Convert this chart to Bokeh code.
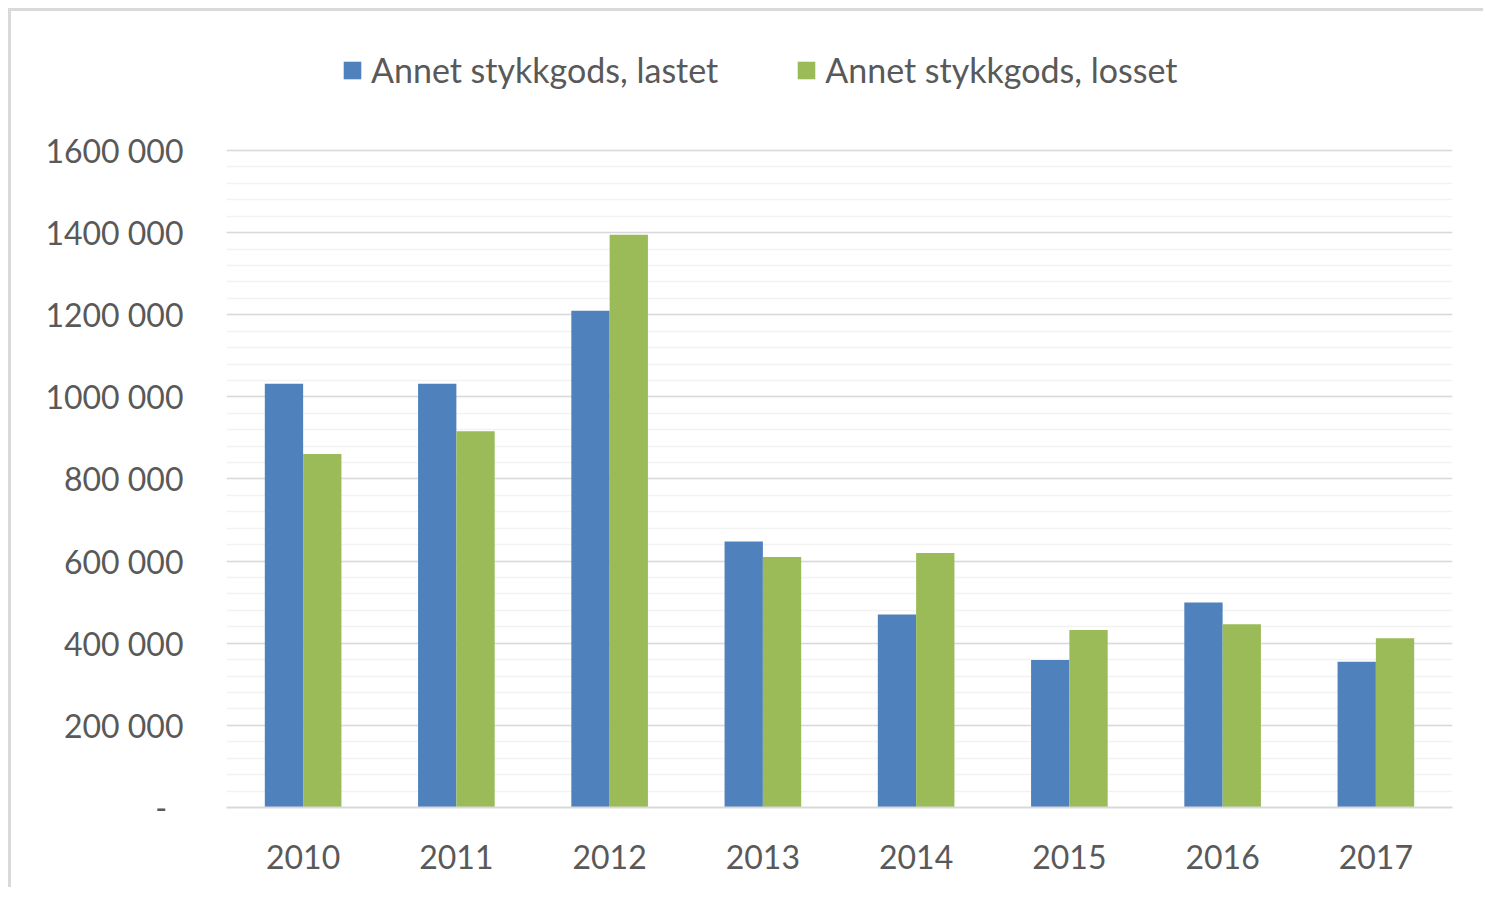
from bokeh.plotting import figure
from bokeh.models import FixedTicker, Legend, LegendItem, ColumnDataSource
from bokeh.transform import dodge
from bokeh.embed import file_html
from bokeh.resources import INLINE

years = ["2010", "2011", "2012", "2013", "2014", "2015", "2016", "2017"]
lastet = [1032000, 1032000, 1210000, 648000, 470000, 359000, 499000, 355000]
losset = [861000, 916000, 1395000, 610000, 620000, 432000, 446000, 412000]
series_names = ["Annet stykkgods, lastet", "Annet stykkgods, losset"]
y_ticks = [0, 200000, 400000, 600000, 800000, 1000000, 1200000, 1400000, 1600000]
y_tick_labels = ["-\u00a0\u00a0", "200 000", "400 000", "600 000", "800 000",
                 "1000 000", "1200 000", "1400 000", "1600 000"]
minor_ticks = [i * 40000 for i in range(41)]

FONT = "Lato"
TXT = "#595959"

src = ColumnDataSource(dict(year=years, lastet=lastet, losset=losset))

# frame spans the full canvas height above the axis so the legend (inside frame) is not clipped
p = figure(x_range=years, y_range=(0, 1938500), width=1475, height=879,
           output_backend="svg", toolbar_location=None,
           min_border_left=215, min_border_right=34, min_border_top=0, min_border_bottom=83)
p.styles = {"border-left": "3px solid #d9d9d9", "border-top": "3px solid #d9d9d9",
            "margin-left": "8px", "margin-top": "8px"}
p.outline_line_color = None
p.x_range.range_padding = 0

r1 = p.vbar(x=dodge("year", -0.125, range=p.x_range), top="lastet", width=0.25,
            source=src, color="#4f81bd", line_color=None)
r2 = p.vbar(x=dodge("year", 0.125, range=p.x_range), top="losset", width=0.25,
            source=src, color="#9bbb59", line_color=None)

p.yaxis.ticker = FixedTicker(ticks=y_ticks, minor_ticks=minor_ticks)
p.yaxis.major_label_overrides = {t: l for t, l in zip(y_ticks, y_tick_labels)}
p.yaxis.axis_line_color = None
p.yaxis.major_tick_line_color = None
p.yaxis.minor_tick_line_color = None
p.yaxis.major_label_standoff = 37
p.yaxis.major_label_text_font = FONT
p.yaxis.major_label_text_font_size = "32px"
p.yaxis.major_label_text_color = TXT

p.xaxis.axis_line_color = "#d9d9d9"
p.xaxis.axis_line_width = 2
p.xaxis.major_tick_line_color = None
p.xaxis.minor_tick_line_color = None
p.xaxis.major_label_standoff = 31
p.xaxis.major_label_text_font = FONT
p.xaxis.major_label_text_font_size = "32px"
p.xaxis.major_label_text_color = TXT

p.xgrid.grid_line_color = None
p.ygrid.grid_line_color = "#d9d9d9"
p.ygrid.grid_line_width = 1.5
p.ygrid.minor_grid_line_color = "#f2f2f2"
p.ygrid.minor_grid_line_width = 1.5

legend = Legend(items=[LegendItem(label=series_names[0], renderers=[r1]),
                       LegendItem(label=series_names[1], renderers=[r2])],
                orientation="horizontal", location=(115, 717),
                label_text_font=FONT, label_text_font_size="34px", label_text_color=TXT,
                glyph_width=22, glyph_height=22, label_standoff=8, spacing=77,
                padding=0, margin=0, border_line_color=None, background_fill_alpha=0)
p.add_layout(legend, "center")

open("out.html", "w").write(file_html(p, INLINE))
